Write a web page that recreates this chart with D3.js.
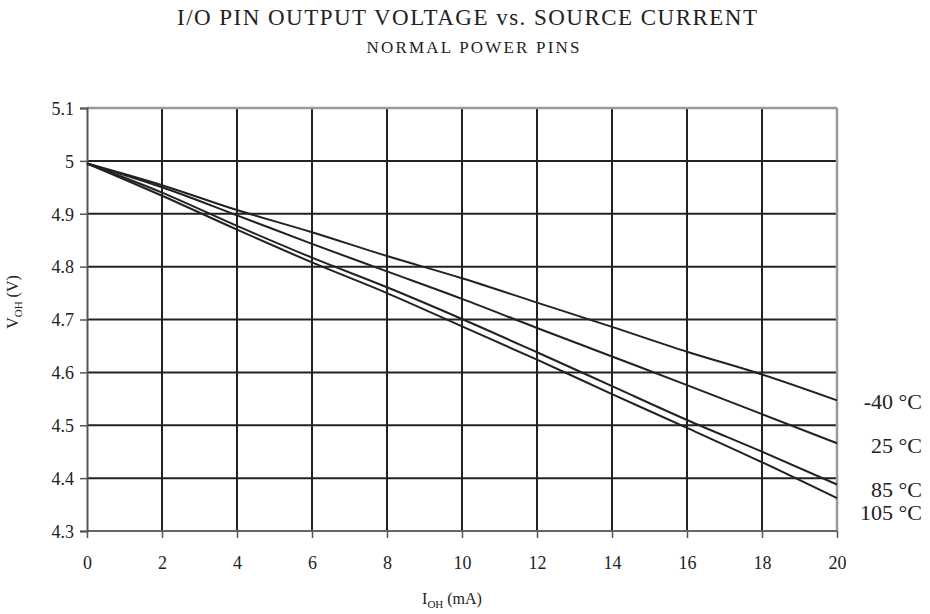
<!DOCTYPE html>
<html>
<head>
<meta charset="utf-8">
<script src="https://cdn.jsdelivr.net/npm/d3@7"></script>
<style>
  html, body { margin: 0; padding: 0; background: #fff; }
  svg { display: block; }
  text { font-family: "Liberation Serif", "Times New Roman", serif; fill: #222; }
</style>
</head>
<body>
<svg id="chart" width="930" height="614"></svg>
<script>
// ---- data ----
const currents = [0, 2, 4, 6, 8, 10, 12, 14, 16, 18, 20];
const vM40 = [4.995, 4.954, 4.907, 4.865, 4.820, 4.778, 4.732, 4.686, 4.639, 4.596, 4.547];
const v25  = [4.995, 4.950, 4.897, 4.843, 4.791, 4.739, 4.684, 4.630, 4.576, 4.521, 4.466];
const v85  = [4.995, 4.940, 4.877, 4.817, 4.761, 4.701, 4.638, 4.574, 4.510, 4.450, 4.388];
const v105 = [4.995, 4.934, 4.870, 4.808, 4.750, 4.687, 4.624, 4.559, 4.495, 4.430, 4.362];
const seriesNames = ["-40 °C", "25 °C", "85 °C", "105 °C"];
const xTicks = [0, 2, 4, 6, 8, 10, 12, 14, 16, 18, 20];
const yTicks = [4.3, 4.4, 4.5, 4.6, 4.7, 4.8, 4.9, 5.0, 5.1];
const yTickLabels = ["4.3", "4.4", "4.5", "4.6", "4.7", "4.8", "4.9", "5", "5.1"];

const SERIF = "'Liberation Serif', 'Times New Roman', serif";
const svg = d3.select("#chart");
const L = 87, R = 837, T = 108, B = 531;
const x = d3.scaleLinear().domain([0, 20]).range([L, R]);
const y = d3.scaleLinear().domain([4.3, 5.1]).range([B, T]);

// titles
svg.append("text").attr("x", 467).attr("y", 25).attr("text-anchor", "middle")
  .style("font-size", "23px").attr("textLength", 580).attr("lengthAdjust", "spacing")
  .text("I/O PIN OUTPUT VOLTAGE vs. SOURCE CURRENT");
svg.append("text").attr("x", 473).attr("y", 53).attr("text-anchor", "middle")
  .style("font-size", "17px").attr("textLength", 213).attr("lengthAdjust", "spacing")
  .text("NORMAL POWER PINS");

// gridlines
const grid = svg.append("g");
grid.selectAll("line.v").data(xTicks.slice(1, -1)).join("line")
  .attr("x1", d => x(d)).attr("x2", d => x(d)).attr("y1", T).attr("y2", B)
  .attr("stroke", "#222").attr("stroke-width", 2);
grid.selectAll("line.h").data(yTicks.slice(1, -1)).join("line")
  .attr("x1", L).attr("x2", R).attr("y1", d => y(d)).attr("y2", d => y(d))
  .attr("stroke", "#222").attr("stroke-width", 2);
// frame
grid.append("line").attr("x1", L).attr("x2", R).attr("y1", T).attr("y2", T).attr("stroke", "#999").attr("stroke-width", 2.5);
grid.append("line").attr("x1", R).attr("x2", R).attr("y1", T).attr("y2", B).attr("stroke", "#999").attr("stroke-width", 2.5);
grid.append("line").attr("x1", L).attr("x2", R).attr("y1", B).attr("y2", B).attr("stroke", "#666").attr("stroke-width", 2);

// axes
const yAxis = d3.axisLeft(y).tickValues(yTicks).tickSize(7).tickPadding(6)
  .tickFormat((d, i) => yTickLabels[i]);
const gy = svg.append("g").attr("transform", `translate(${L},0)`).call(yAxis)
  .attr("font-family", SERIF).attr("font-size", 18);
gy.select(".domain").attr("stroke", "#555").attr("stroke-width", 2);
gy.selectAll(".tick line").attr("stroke", "#555").attr("stroke-width", 1.5);
gy.selectAll(".tick text").attr("fill", "#222").attr("dy", "0.35em")
  .style("font-family", SERIF).style("font-size", "18px");

const xAxis = d3.axisBottom(x).tickValues(xTicks).tickSize(7).tickPadding(18)
  .tickFormat(d3.format("d"));
const gx = svg.append("g").attr("transform", `translate(0,${B})`).call(xAxis)
  .attr("font-family", SERIF).attr("font-size", 18);
gx.select(".domain").remove();
gx.selectAll(".tick line").attr("stroke", "#555").attr("stroke-width", 1.5);
gx.selectAll(".tick text").attr("fill", "#222")
  .style("font-family", SERIF).style("font-size", "18px");

// axis titles
const xt = svg.append("text").attr("x", 452).attr("y", 604).attr("text-anchor", "middle").style("font-size", "16px");
xt.append("tspan").text("I");
xt.append("tspan").attr("dy", 4).style("font-size", "11px").text("OH");
xt.append("tspan").attr("dy", -4).text(" (mA)");

const yt = svg.append("text").attr("transform", "translate(18,302) rotate(-90)").attr("text-anchor", "middle").style("font-size", "16px");
yt.append("tspan").text("V");
yt.append("tspan").attr("dy", 4).style("font-size", "11px").text("OH");
yt.append("tspan").attr("dy", -4).text(" (V)");

// curves
const allSeries = [vM40, v25, v85, v105];
const line = d3.line().x((d, i) => x(currents[i])).y(d => y(d)).curve(d3.curveMonotoneX);
svg.append("g").selectAll("path").data(allSeries).join("path")
  .attr("d", line).attr("fill", "none").attr("stroke", "#222").attr("stroke-width", 2);

// series labels
const labelY = [409, 453, 497, 520];
svg.append("g").selectAll("text").data(seriesNames).join("text")
  .attr("x", 922).attr("y", (d, i) => labelY[i]).attr("text-anchor", "end")
  .style("font-size", "22px").text(d => d);
</script>
</body>
</html>
